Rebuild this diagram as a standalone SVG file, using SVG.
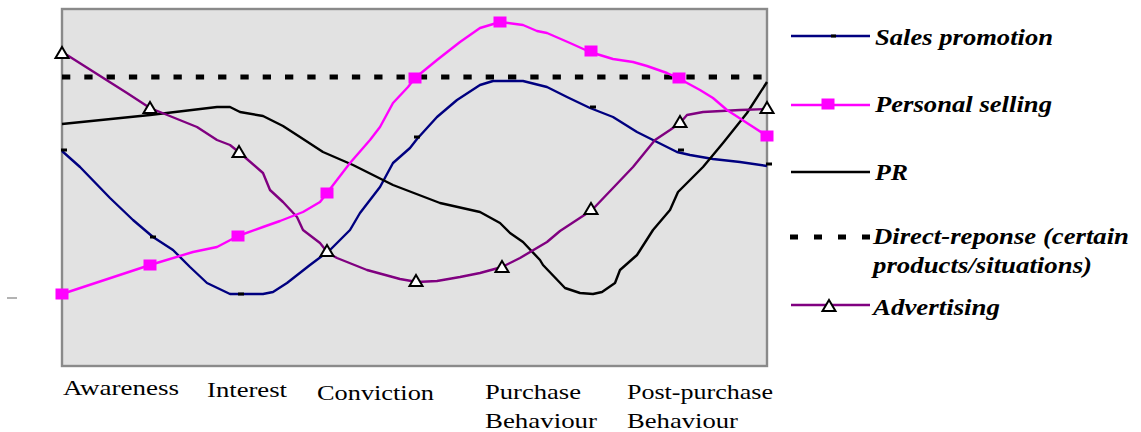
<svg xmlns="http://www.w3.org/2000/svg" width="1141" height="432" viewBox="0 0 1141 432">
<style>
.frame{fill:#e2e2e2;stroke:#8a8a8a;stroke-width:2.4}
.ln{fill:none;stroke-width:2.4;stroke-linejoin:round}
.sp{stroke:#000080}
.ps{stroke:#ff00ff}
.pr{stroke:#000000}
.ad{stroke:#800080}
.dr{fill:none;stroke:#000;stroke-width:5;stroke-dasharray:8.3 14}
.sq{fill:#ff00ff}
.tri{fill:#fff;stroke:#000;stroke-width:2;stroke-linejoin:miter}
.dash{fill:#000}
text{font-family:"Liberation Serif",Tinos,"Times New Roman","Noto Serif","DejaVu Serif",FreeSerif,serif;fill:#000}
.leg{font-weight:bold;font-style:italic;font-size:23px}
.ax{font-size:22px}
</style>
<defs>
<path id="tri" class="tri" d="M0,-6 L6.5,5 L-6.5,5 Z"/>
<rect id="sq" class="sq" x="-6.5" y="-5.5" width="13" height="11"/>
<rect id="dm" class="dash" x="-3" y="-1.5" width="6" height="3"/>
</defs>

<g id="plot-area">
<rect class="frame" x="62" y="9" width="705" height="357"/>
<line x1="7" y1="298" x2="17" y2="298" stroke="#8a8a8a" stroke-width="1.3"/>
</g>

<g id="series">
<g id="direct-response">
<line class="dr" x1="62" y1="77" x2="767" y2="77"/>
</g>
<g id="sales-promotion">
<polyline class="ln sp" points="62,151 80,167 110,198 133,220 153,237 173,250 190,267 207,283 230,294 263,294 273,292 287,283 310,265 330,250 350,230 360,213 370,200 380,187 393,163 410,148 417,139 437,117 457,100 480,85 493,81 523,81 547,87 567,97 590,108 613,117 637,132 657,142 677,152 690,155 713,159 740,162 767,166"/>
<use href="#dm" x="64" y="150"/>
<use href="#dm" x="153" y="237"/>
<use href="#dm" x="241" y="294"/>
<use href="#dm" x="417" y="137"/>
<use href="#dm" x="593" y="107"/>
<use href="#dm" x="681" y="150"/>
<use href="#dm" x="769" y="164"/>
</g>
<g id="pr">
<polyline class="ln pr" points="62,124 150,115 217,107 230,107 240,112 263,116 283,126 300,137 323,152 353,165 393,185 440,203 480,212 500,223 510,233 523,242 540,260 543,265 565,288 580,293 593,294 602,292 615,283 620,270 637,255 653,230 670,210 678,192 703,167 723,143 747,113 767,82"/>
</g>
<g id="advertising">
<polyline class="ln ad" points="62,53 67,55 127,93 150,108 197,127 217,140 230,145 240,153 263,173 270,190 283,202 297,217 303,230 320,243 328,253 337,258 367,270 400,279 417,282 437,281 460,277 480,273 502,267 520,258 547,242 560,231 592,210 613,188 633,167 655,140 670,130 680,123 687,115 703,112 740,110 767,109"/>
<use href="#tri" x="62" y="53"/>
<use href="#tri" x="150" y="108"/>
<use href="#tri" x="239" y="152"/>
<use href="#tri" x="327" y="251"/>
<use href="#tri" x="416" y="281"/>
<use href="#tri" x="502" y="267"/>
<use href="#tri" x="591" y="209"/>
<use href="#tri" x="680" y="122"/>
<use href="#tri" x="767" y="108"/>
</g>
<g id="personal-selling">
<polyline class="ln ps" points="62,294 150,265 193,252 217,247 238,236 263,227 280,221 303,212 320,202 327,193 350,163 370,140 380,127 393,103 408,87 415,78 437,60 460,42 480,28 500,22 523,25 537,31 547,33 570,43 590,52 613,59 633,62 647,66 667,73 678,78 700,90 713,98 727,110 747,123 767,136"/>
<use href="#sq" x="62" y="294"/>
<use href="#sq" x="150" y="265"/>
<use href="#sq" x="238" y="236"/>
<use href="#sq" x="327" y="193"/>
<use href="#sq" x="415" y="78"/>
<use href="#sq" x="500" y="22"/>
<use href="#sq" x="591" y="51"/>
<use href="#sq" x="679" y="78"/>
<use href="#sq" x="767" y="136"/>
</g>
</g>

<g id="axis-labels">
<text class="ax" x="63" y="395" textLength="116" lengthAdjust="spacingAndGlyphs">Awareness</text>
<text class="ax" x="207" y="397" textLength="80" lengthAdjust="spacingAndGlyphs">Interest</text>
<text class="ax" x="317" y="400" textLength="117" lengthAdjust="spacingAndGlyphs">Conviction</text>
<text class="ax" x="485" y="399" textLength="96" lengthAdjust="spacingAndGlyphs">Purchase</text>
<text class="ax" x="485" y="428" textLength="112" lengthAdjust="spacingAndGlyphs">Behaviour</text>
<text class="ax" x="627" y="399" textLength="146" lengthAdjust="spacingAndGlyphs">Post-purchase</text>
<text class="ax" x="627" y="428" textLength="111" lengthAdjust="spacingAndGlyphs">Behaviour</text>
</g>

<g id="legend">
<g id="legend-sales-promotion">
<line class="ln sp" x1="791" y1="36" x2="870" y2="36"/>
<rect class="dash" x="831" y="34.5" width="5" height="3"/>
<text class="leg" x="875" y="45" textLength="178" lengthAdjust="spacingAndGlyphs">Sales promotion</text>
</g>
<g id="legend-personal-selling">
<line class="ln ps" x1="791" y1="105" x2="870" y2="105"/>
<use href="#sq" x="828" y="104"/>
<text class="leg" x="875" y="112" textLength="177" lengthAdjust="spacingAndGlyphs">Personal selling</text>
</g>
<g id="legend-pr">
<line class="ln pr" x1="791" y1="172" x2="870" y2="172"/>
<text class="leg" x="875" y="180" textLength="33" lengthAdjust="spacingAndGlyphs">PR</text>
</g>
<g id="legend-direct-response">
<line class="dr" x1="790" y1="237" x2="870" y2="237" style="stroke-dasharray:8 16"/>
<text class="leg" x="873" y="244" textLength="256" lengthAdjust="spacingAndGlyphs">Direct-reponse (certain</text>
<text class="leg" x="873" y="273" textLength="219" lengthAdjust="spacingAndGlyphs">products/situations)</text>
</g>
<g id="legend-advertising">
<line class="ln ad" x1="791" y1="305" x2="870" y2="305"/>
<use href="#tri" x="829" y="306"/>
<text class="leg" x="873" y="315" textLength="127" lengthAdjust="spacingAndGlyphs">Advertising</text>
</g>
</g>
</svg>
